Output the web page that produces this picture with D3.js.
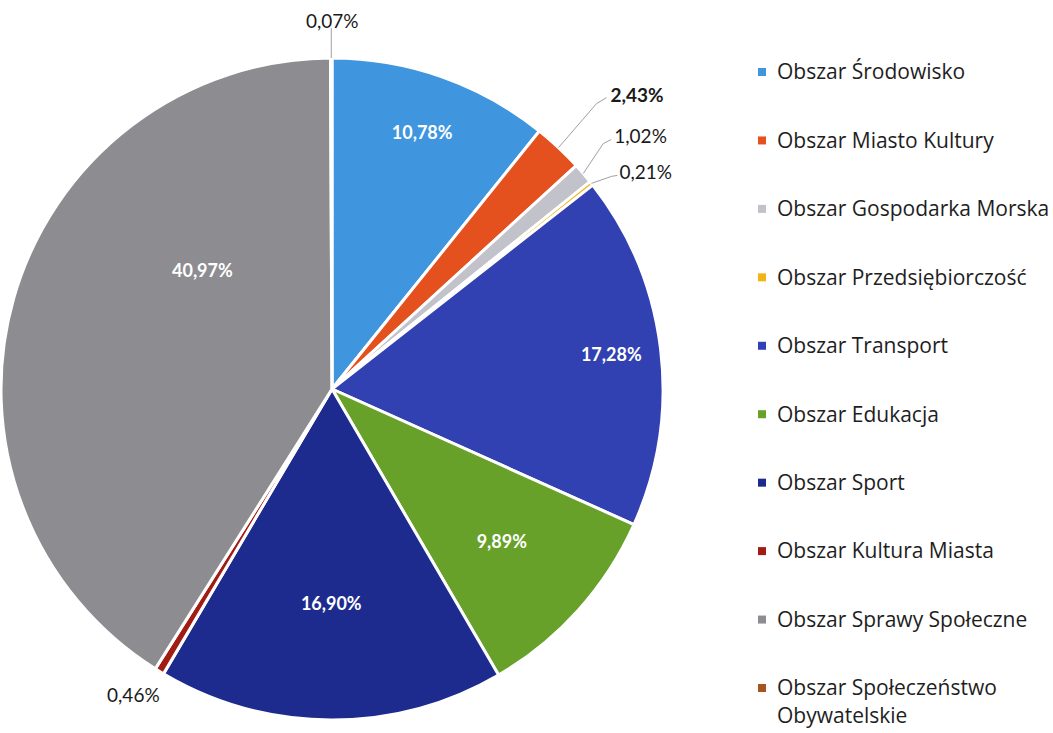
<html>
<head>
<meta charset="utf-8">
<title>Pie</title>
<script src="https://d3js.org/d3.v7.min.js"></script>
<style>
  body { margin: 0; background: #fff; }
  text { font-family: Lato, "Open Sans", sans-serif; }
</style>
</head>
<body>
<script>
var categories = ["Obszar Środowisko", "Obszar Miasto Kultury", "Obszar Gospodarka Morska",
  "Obszar Przedsiębiorczość", "Obszar Transport", "Obszar Edukacja", "Obszar Sport",
  "Obszar Kultura Miasta", "Obszar Sprawy Społeczne", "Obszar Społeczeństwo Obywatelskie"];
var values = [10.78, 2.43, 1.02, 0.21, 17.28, 9.89, 16.90, 0.46, 40.97, 0.07];
var labels = ["10,78%", "2,43%", "1,02%", "0,21%", "17,28%", "9,89%", "16,90%", "0,46%", "40,97%", "0,07%"];
var colors = ["#3f95de", "#e5501f", "#c2c3ca", "#f2b316", "#3241b1", "#67a12a", "#1e2b8e", "#a11d14", "#8d8d91", "#a5531f"];

var width = 1053, height = 733;
var cx = 332, cy = 389, r = 331;

var svg = d3.select("body").append("svg")
  .attr("width", width).attr("height", height);

var pie = d3.pie().sort(null).value(function(d) { return d; });
var arcs = pie(values);
var arc = d3.arc().innerRadius(0).outerRadius(r);

var g = svg.append("g").attr("transform", "translate(" + cx + "," + cy + ")");

g.selectAll("path").data(arcs).enter().append("path")
  .attr("d", arc)
  .attr("fill", function(d, i) { return colors[i]; })
  .attr("stroke", "#fff")
  .attr("stroke-width", 3)
  .attr("stroke-linejoin", "round");

// polar position: fraction of radius + angle shift from the slice middle
var polar = function(d, k, shift) {
  var a = (d.startAngle + d.endAngle) / 2 + (shift || 0);
  return [Math.sin(a) * r * k, -Math.cos(a) * r * k];
};

// inside labels for big slices: [radius fraction, angle shift]
var inside = { 0: [0.82, 0], 4: [0.85, 0], 5: [0.69, 0], 6: [0.65, 0], 8: [0.53, 0.46] };
g.selectAll("text.in").data(arcs.filter(function(d) { return inside[d.index] !== undefined; }))
  .enter().append("text")
  .attr("class", "in")
  .attr("x", function(d) { return polar(d, inside[d.index][0], inside[d.index][1])[0]; })
  .attr("y", function(d) { return polar(d, inside[d.index][0], inside[d.index][1])[1]; })
  .attr("text-anchor", "middle")
  .attr("dy", "0.35em")
  .attr("fill", "#fff")
  .attr("font-weight", "bold")
  .attr("font-size", 18)
  .text(function(d) { return labels[d.index]; });

// outside labels with leader lines (offsets relative to the slice edge)
var outside = [
  { i: 1, pts: [[38, -44], [48, -50]], tx: 52, ty: -52, bold: true },
  { i: 2, pts: [[20, -30], [28, -34]], tx: 31, ty: -37 },
  { i: 3, pts: [[20, -7], [26, -8]], tx: 28, ty: -11 },
  { i: 9, pts: [[0, -30]], tx: 1, ty: -37, anchor: "middle" },
  { i: 7, pts: [], tx: -26, ty: 24, anchor: "middle" }
];
outside.forEach(function(o) {
  var d = arcs[o.i];
  var e = polar(d, 1.0);
  var p = [[e[0], e[1]]].concat(o.pts.map(function(q) { return [e[0] + q[0], e[1] + q[1]]; }));
  if (p.length > 1) {
    g.append("path")
      .attr("d", d3.line()(p))
      .attr("fill", "none")
      .attr("stroke", "#a0a0a0")
      .attr("stroke-width", 1);
  }
  g.append("text")
    .attr("x", e[0] + o.tx)
    .attr("y", e[1] + o.ty)
    .attr("dy", "0.35em")
    .attr("text-anchor", o.anchor || "start")
    .attr("fill", "#1a1a1a")
    .attr("font-weight", o.bold ? "bold" : "normal")
    .attr("font-size", 19)
    .text(labels[o.i]);
});

// legend
var legend = svg.append("g").attr("transform", "translate(758,0)");
var ly = d3.scaleLinear().domain([0, 9]).range([72, 688]);
var items = legend.selectAll("g").data(categories).enter().append("g")
  .attr("transform", function(d, i) { return "translate(0," + ly(i) + ")"; });
items.append("rect")
  .attr("x", 0).attr("y", -4).attr("width", 8).attr("height", 8)
  .attr("fill", function(d, i) { return colors[i]; });
items.append("text")
  .attr("x", 19)
  .attr("dy", "0.35em")
  .attr("font-size", 21)
  .style("font-family", "'Open Sans', sans-serif")
  .attr("fill", "#1e1e1e")
  .each(function(d, i) {
    var t = d3.select(this);
    if (i === 9) {
      t.append("tspan").attr("x", 19).text("Obszar Społeczeństwo");
      t.append("tspan").attr("x", 19).attr("dy", "1.3em").text("Obywatelskie");
    } else {
      t.text(d);
    }
  });
</script>
</body>
</html>
